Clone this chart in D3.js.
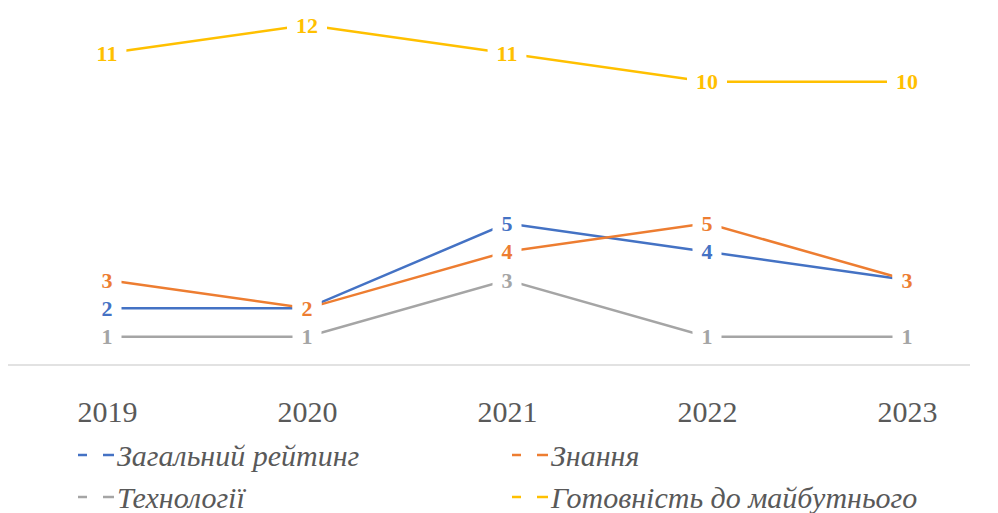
<!DOCTYPE html>
<html><head><meta charset="utf-8">
<script src="https://cdn.jsdelivr.net/npm/d3@7"></script>
<style>body{margin:0;background:#fff}svg{display:block}</style>
</head><body><svg id="c" width="998" height="513"></svg>
<script>
const years = ["2019","2020","2021","2022","2023"];
const overall = [2,2,5,4,3];
const knowledge = [3,2,4,5,3];
const technology = [1,1,3,1,1];
const futureReadiness = [11,12,11,10,10];
const seriesNames = ["Загальний рейтинг","Знання","Технології","Готовність до майбутнього"];
const seriesColors = ["#4472C4","#ED7D31","#A5A5A5","#FFC000"];
const seriesValues = [overall, knowledge, technology, futureReadiness];
const SERIF = "'Liberation Serif', 'Times New Roman', Tinos, 'DejaVu Serif', serif";

const svg = d3.select("#c");
const x = d3.scalePoint().domain(years).range([107,907]);
const y = d3.scaleLinear().domain([0,12]).range([365,25]);

const ax = svg.append("g").attr("transform","translate(0,365)")
  .call(d3.axisBottom(x).tickSize(0).tickPadding(36));
ax.select(".domain").remove();
ax.append("line").attr("x1",8).attr("x2",970).attr("stroke","#D9D9D9").attr("stroke-width",1.3);
ax.selectAll("text").style("font-family",SERIF).style("font-size","30px").attr("fill","#595959");

const line = d3.line().x((d,i)=>x(years[i])).y(d=>y(d));
const order = [3,2,0,1];
order.forEach(s=>{
  svg.append("path").datum(seriesValues[s]).attr("d",line)
    .attr("fill","none").attr("stroke",seriesColors[s]).attr("stroke-width",2.5);
});
order.forEach(s=>{
  const g = svg.append("g");
  seriesValues[s].forEach((v,i)=>{
    const lg = g.append("g").attr("transform",`translate(${x(years[i])},${y(v)})`);
    const t = lg.append("text").text(v).attr("text-anchor","middle").attr("dy","0.35em")
      .style("font-family",SERIF).style("font-weight","bold").style("font-size","22px")
      .attr("fill",seriesColors[s]);
    const bb = t.node().getBBox();
    lg.insert("rect","text").attr("x",bb.x-9).attr("y",bb.y+2).attr("width",bb.width+18).attr("height",bb.height-4).attr("fill","#fff");
  });
});

const legPos = [[78,455],[512,455],[78,497],[512,497]];
seriesNames.forEach((n,s)=>{
  const [lx,ly] = legPos[s];
  const g = svg.append("g").attr("transform",`translate(${lx},${ly})`);
  g.append("line").attr("x1",0).attr("x2",9).attr("y1",0).attr("y2",0).attr("stroke",seriesColors[s]).attr("stroke-width",2.5);
  g.append("line").attr("x1",25).attr("x2",36).attr("y1",0).attr("y2",0).attr("stroke",seriesColors[s]).attr("stroke-width",2.5);
  g.append("text").text(n).attr("x",39).attr("dy","0.35em").style("font-family",SERIF)
    .style("font-style","italic").style("font-size","30px").attr("fill","#595959");
});
</script></body></html>
